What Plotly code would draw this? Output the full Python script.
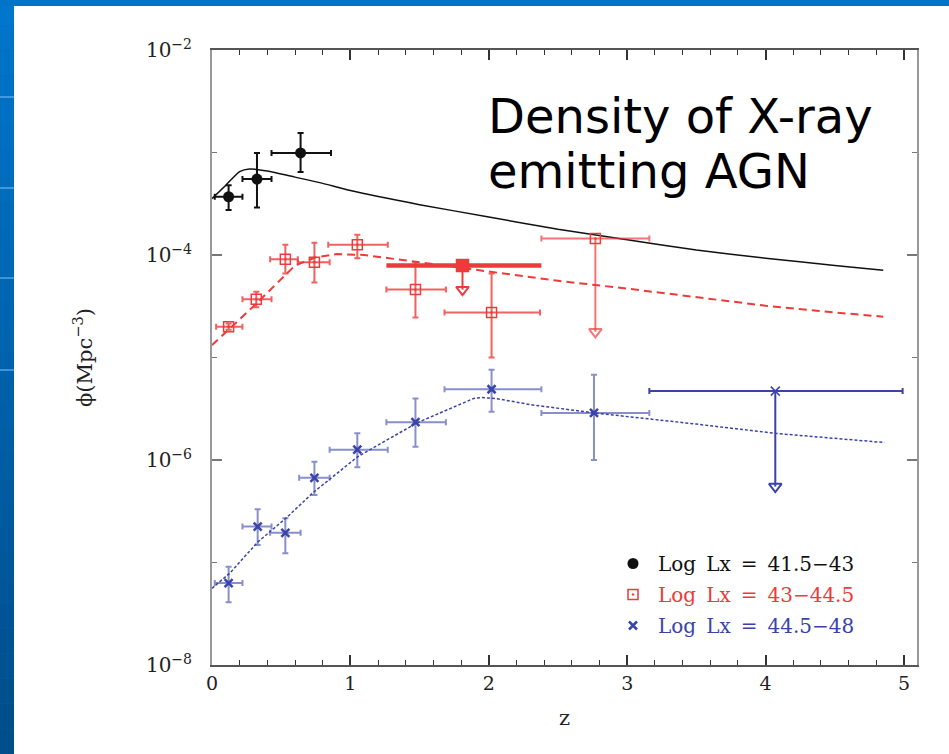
import plotly.graph_objects as go

# ---------------- data ----------------
# Log Lx = 41.5-43 (black, filled circles)
blk_z = [0.12, 0.325, 0.64]
blk_phi = [3.7e-4, 5.5e-4, 9.9e-4]
blk_zlo = [0.02, 0.22, 0.43]
blk_zhi = [0.22, 0.43, 0.86]
blk_lo = [2.75e-4, 2.9e-4, 6.45e-4]
blk_hi = [4.8e-4, 9.9e-4, 1.55e-3]

# Log Lx = 43-44.5 (red, open squares)
red_z = [0.12, 0.32, 0.53, 0.74, 1.05, 1.47, 2.02]
red_phi = [2.0e-5, 3.7e-5, 9.1e-5, 8.5e-5, 1.26e-4, 4.6e-5, 2.75e-5]
red_zlo = [0.03, 0.22, 0.42, 0.62, 0.84, 1.26, 1.68]
red_zhi = [0.22, 0.43, 0.62, 0.85, 1.27, 1.69, 2.37]
red_lo = [1.87e-5, 3.1e-5, 6.6e-5, 5.4e-5, 9.3e-5, 2.45e-5, 1.0e-5]
red_hi = [2.15e-5, 4.37e-5, 1.26e-4, 1.32e-4, 1.58e-4, 8.5e-5, 6.6e-5]
# red upper limits
redul_z = [1.81, 2.77]
redul_phi = [7.9e-5, 1.45e-4]
redul_zlo = [1.26, 2.38]
redul_zhi = [2.38, 3.16]
redul_tip = [4.0e-5, 1.55e-5]

# Log Lx = 44.5-48 (blue, crosses)
blu_z = [0.12, 0.33, 0.53, 0.74, 1.05, 1.47, 2.02, 2.76]
blu_phi = [6.3e-8, 2.24e-7, 1.95e-7, 6.7e-7, 1.26e-6, 2.34e-6, 4.9e-6, 2.88e-6]
blu_zlo = [0.02, 0.22, 0.42, 0.63, 0.85, 1.26, 1.68, 2.38]
blu_zhi = [0.22, 0.43, 0.64, 0.85, 1.27, 1.69, 2.38, 3.16]
blu_lo = [4.1e-8, 1.48e-7, 1.23e-7, 4.55e-7, 8.5e-7, 1.35e-6, 2.95e-6, 1.0e-6]
blu_hi = [9.1e-8, 3.3e-7, 2.7e-7, 9.6e-7, 1.82e-6, 3.98e-6, 7.6e-6, 6.8e-6]
bluul_z = [4.07]
bluul_phi = [4.7e-6]
bluul_zlo = [3.16]
bluul_zhi = [4.99]
bluul_tip = [4.8e-7]

# model curves
blk_curve_z = [0, 0.1, 0.2, 0.27, 0.4, 0.6, 0.8, 1.0, 1.5, 2.0, 2.5, 3.0, 3.5, 4.0, 4.5, 4.85]
blk_curve_phi = [3.55e-4, 4.8e-4, 6.5e-4, 6.9e-4, 6.6e-4, 5.75e-4, 5.0e-4, 4.25e-4, 3.1e-4,
                 2.35e-4, 1.78e-4, 1.41e-4, 1.12e-4, 9.3e-5, 7.9e-5, 7.1e-5]
red_curve_z = [0, 0.3, 0.6, 0.75, 0.9, 1.1, 1.5, 2.0, 2.5, 3.0, 3.5, 4.0, 4.5, 4.85]
red_curve_phi = [1.32e-5, 3.16e-5, 7.9e-5, 9.5e-5, 1.02e-4, 1.0e-4, 8.5e-5, 6.9e-5, 5.6e-5,
                 4.7e-5, 3.9e-5, 3.2e-5, 2.75e-5, 2.5e-5]
blu_curve_z = [0, 0.13, 0.33, 0.54, 0.73, 1.05, 1.48, 1.89, 1.95, 2.05, 2.3, 2.76, 3.5, 4.07, 4.86]
blu_curve_phi = [5.6e-8, 7.9e-8, 1.58e-7, 2.75e-7, 4.8e-7, 1.07e-6, 2.3e-6, 3.98e-6, 4.07e-6,
                 3.98e-6, 3.47e-6, 2.88e-6, 2.24e-6, 1.82e-6, 1.48e-6]

legend_names = ["Log\u2002Lx\u2002=\u200241.5\u221243",
                "Log\u2002Lx\u2002=\u200243\u221244.5",
                "Log\u2002Lx\u2002=\u200244.5\u221248"]
ytick_vals = [1e-8, 1e-6, 1e-4, 1e-2]
ytick_text = ["10<sup>\u22128</sup>", "10<sup>\u22126</sup>", "10<sup>\u22124</sup>", "10<sup>\u22122</sup>"]
title_lines = ["Density of X-ray", "emitting AGN"]

# ---------------- styling ----------------
W, H = 949, 754
L, R, T, B = 212, 32, 50, 89
PW, PH = W - L - R, H - T - B
def px(x): return (x - L) / PW
def py(y): return (H - B - y) / PH

BLACK = "#111111"
RED = "rgb(238,58,58)"
RED_E = "rgba(238,58,58,0.8)"
BLUE = "rgb(58,68,168)"
BLUE_E = "rgba(58,68,168,0.6)"
SERIF = "DejaVu Serif"

def ebars(z, phi, zlo, zhi, lo, hi, color, thick=2, w=3):
    ex = dict(type="data", symmetric=False,
              array=[b - a for a, b in zip(z, zhi)],
              arrayminus=[a - b for a, b in zip(z, zlo)],
              color=color, thickness=thick, width=w)
    ey = dict(type="data", symmetric=False,
              array=[b - a for a, b in zip(phi, hi)],
              arrayminus=[a - b for a, b in zip(phi, lo)],
              color=color, thickness=thick, width=w)
    return ex, ey

fig = go.Figure()

# curves
fig.add_trace(go.Scatter(x=blk_curve_z, y=blk_curve_phi, mode="lines", line_shape="spline",
                         line=dict(color=BLACK, width=1.5, smoothing=0.6), showlegend=False, hoverinfo="skip"))
fig.add_trace(go.Scatter(x=red_curve_z, y=red_curve_phi, mode="lines",
                         line=dict(color=RED, width=2, dash="8px,5px"), showlegend=False, hoverinfo="skip"))
fig.add_trace(go.Scatter(x=blu_curve_z, y=blu_curve_phi, mode="lines",
                         line=dict(color=BLUE, width=1.5, dash="3px,2px"), showlegend=False, hoverinfo="skip"))

# upper limits (vertical arrows)
TRI = 10 ** 0.06
def ul_traces(z, phi, zlo, zhi, tip, color, ecolor, symbol, msize, hthick, hw):
    tri_y = [t * TRI for t in tip]
    fig.add_trace(go.Scatter(
        x=z, y=phi, mode="markers",
        marker=dict(symbol=symbol, size=msize, color=color, line=dict(color=color, width=1.5)),
        error_x=dict(type="data", symmetric=False,
                     array=[b - a for a, b in zip(z, zhi)],
                     arrayminus=[a - b for a, b in zip(z, zlo)],
                     color=ecolor, thickness=hthick, width=hw),
        error_y=dict(type="data", symmetric=False, array=[0] * len(z),
                     arrayminus=[a - b for a, b in zip(phi, tri_y)],
                     color=ecolor, thickness=2, width=0),
        showlegend=False, hoverinfo="skip"))
    fig.add_trace(go.Scatter(
        x=z, y=tri_y, mode="markers",
        marker=dict(symbol="triangle-down-open", size=11, color=ecolor, line=dict(color=ecolor, width=2)),
        showlegend=False, hoverinfo="skip"))

ul_traces(redul_z[:1], redul_phi[:1], redul_zlo[:1], redul_zhi[:1], redul_tip[:1],
          RED, RED, "square", 12, 4.5, 0)
ul_traces(redul_z[1:], redul_phi[1:], redul_zlo[1:], redul_zhi[1:], redul_tip[1:],
          RED, "rgba(238,58,58,0.7)", "square-open-dot", 10, 2, 3)
ul_traces(bluul_z, bluul_phi, bluul_zlo, bluul_zhi, bluul_tip,
          BLUE, BLUE, "x-thin", 9, 2, 3)

# data points
ex, ey = ebars(blk_z, blk_phi, blk_zlo, blk_zhi, blk_lo, blk_hi, BLACK)
fig.add_trace(go.Scatter(x=blk_z, y=blk_phi, mode="markers", error_x=ex, error_y=ey,
                         marker=dict(symbol="circle", size=11, color=BLACK),
                         name=f"<span style='color:{BLACK}'>{legend_names[0]}</span>",
                         legendgroup="a", hoverinfo="skip"))
ex, ey = ebars(red_z, red_phi, red_zlo, red_zhi, red_lo, red_hi, RED_E)
fig.add_trace(go.Scatter(x=red_z, y=red_phi, mode="markers", error_x=ex, error_y=ey,
                         marker=dict(symbol="square-open-dot", size=10, color=RED,
                                     line=dict(color=RED, width=1.5)),
                         name=f"<span style='color:{RED}'>{legend_names[1]}</span>",
                         legendgroup="b", hoverinfo="skip"))
ex, ey = ebars(blu_z, blu_phi, blu_zlo, blu_zhi, blu_lo, blu_hi, BLUE_E)
fig.add_trace(go.Scatter(x=blu_z, y=blu_phi, mode="markers", error_x=ex, error_y=ey,
                         marker=dict(symbol="x-thin", size=8, color=BLUE,
                                     line=dict(color=BLUE, width=2.5)),
                         name=f"<span style='color:{BLUE}'>{legend_names[2]}</span>",
                         legendgroup="c", hoverinfo="skip"))

# ---------------- background (slide) ----------------
shapes = []
n = 30
for i in range(n):
    y0, y1 = H * i / n, H * (i + 1) / n
    f = i / (n - 1)
    c = (0, int(118 - 40 * f), int(204 - 66 * f))
    shapes.append(dict(type="rect", xref="paper", yref="paper", layer="below",
                       x0=px(0), x1=px(14), y0=py(y1), y1=py(y0),
                       fillcolor=f"rgb{c}", line=dict(width=0)))
shapes.append(dict(type="rect", xref="paper", yref="paper", layer="below",
                   x0=px(0), x1=px(W), y0=py(6), y1=py(0),
                   fillcolor="rgb(0,116,200)", line=dict(width=0)))
for yy in [97, 188, 278, 370]:
    shapes.append(dict(type="line", xref="paper", yref="paper", layer="below",
                       x0=px(0), x1=px(14), y0=py(yy), y1=py(yy),
                       line=dict(color="rgba(90,170,235,0.7)", width=2)))
shapes.append(dict(type="rect", xref="paper", yref="paper", layer="below",
                   x0=px(14), x1=px(W + 2), y0=py(H + 2), y1=py(6),
                   fillcolor="white", line=dict(width=0)))

annotations = [
    dict(text=title_lines[0], xref="paper", yref="paper", x=px(486), y=py(116),
         xanchor="left", yanchor="middle", showarrow=False,
         font=dict(family="DejaVu Sans", size=48, color="black")),
    dict(text=title_lines[1], xref="paper", yref="paper", x=px(486), y=py(171),
         xanchor="left", yanchor="middle", showarrow=False,
         font=dict(family="DejaVu Sans", size=48, color="black")),
]

fig.update_layout(
    width=W, height=H,
    margin=dict(l=L, r=R, t=T, b=B, autoexpand=False),
    paper_bgcolor="rgb(0,104,184)",
    plot_bgcolor="rgba(0,0,0,0)",
    shapes=shapes,
    annotations=annotations,
    showlegend=True,
    legend=dict(x=px(608), y=py(544), xanchor="left", yanchor="top",
                bgcolor="rgba(0,0,0,0)", font=dict(family=SERIF, size=20, color=BLACK),
                itemwidth=40, tracegroupgap=2, traceorder="grouped"),
    xaxis=dict(range=[0, PW / 138.4], showgrid=False, zeroline=False,
               showline=True, linecolor="#555", linewidth=2, mirror="ticks",
               ticks="inside", ticklen=10, tickwidth=1.5, tickcolor="#333",
               dtick=1, tick0=0,
               minor=dict(dtick=0.2, ticks="inside", ticklen=5, tickcolor="#333", tickwidth=1.2),
               tickfont=dict(family=SERIF, size=19, color="#222"),
               title=dict(text="z", font=dict(family=SERIF, size=21, color="#222"), standoff=18)),
    yaxis=dict(type="log", range=[-8, -2], showgrid=False, zeroline=False,
               showline=True, linecolor="#999", linewidth=2, mirror="ticks",
               ticks="inside", ticklen=10, tickwidth=1.5, tickcolor="#777",
               tickvals=ytick_vals, ticktext=ytick_text,
               minor=dict(tickvals=[1e-7, 1e-5, 1e-3], ticks="inside", ticklen=5,
                          tickcolor="#777", tickwidth=1.2),
               ticklabelstandoff=14,
               tickfont=dict(family=SERIF, size=20, color="#222"),
               title=dict(text="\u03d5(Mpc<sup>\u22123</sup>)",
                          font=dict(family=SERIF, size=21, color="#222"), standoff=48)),
)

fig.write_html("out.html")
